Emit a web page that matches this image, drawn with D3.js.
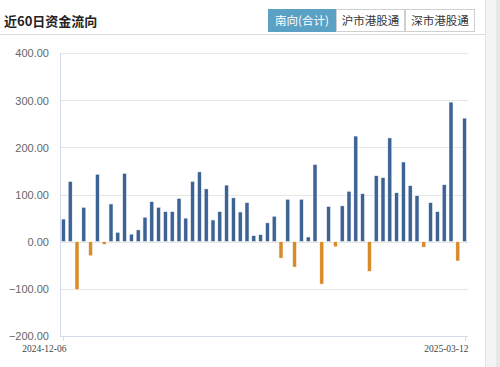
<!DOCTYPE html>
<html><head><meta charset="utf-8">
<script src="https://cdn.jsdelivr.net/npm/d3@7/dist/d3.min.js"></script>
<style>
html,body{margin:0;padding:0;background:#fff;overflow:hidden;}
svg{display:block;}
</style></head>
<body>
<svg id="c" width="500" height="367"></svg>
<script>
const title = "近60日资金流向";
const tabs = ["南向(合计)", "沪市港股通", "深市港股通"];
const dates = [
 "2024-12-06","2024-12-09","2024-12-10","2024-12-11","2024-12-12","2024-12-13","2024-12-16","2024-12-17","2024-12-18","2024-12-19",
 "2024-12-20","2024-12-23","2024-12-24","2024-12-27","2024-12-30","2024-12-31","2025-01-02","2025-01-03","2025-01-06","2025-01-07",
 "2025-01-08","2025-01-09","2025-01-10","2025-01-13","2025-01-14","2025-01-15","2025-01-16","2025-01-17","2025-01-20","2025-01-21",
 "2025-01-22","2025-01-23","2025-01-24","2025-01-27","2025-02-05","2025-02-06","2025-02-07","2025-02-10","2025-02-11","2025-02-12",
 "2025-02-13","2025-02-14","2025-02-17","2025-02-18","2025-02-19","2025-02-20","2025-02-21","2025-02-24","2025-02-25","2025-02-26",
 "2025-02-27","2025-02-28","2025-03-03","2025-03-04","2025-03-05","2025-03-06","2025-03-07","2025-03-10","2025-03-11","2025-03-12"
];
const flows = [
 48,128,-102,73,-30,143,-6,80,20,145,
 16,25,52,85,73,64,64,92,50,128,
 148,112,46,64,120,93,63,83,13,15,
 40,54,-35,90,-54,90,10,164,-90,75,
 -11,76,107,224,102,-63,140,136,220,104,
 169,119,98,-12,83,64,121,296,-41,262
];
const yTicks = [-200,-100,0,100,200,300,400];
const xLabels = ["2024-12-06","2025-03-12"];

const svg = d3.select("#c");
// right gutter
svg.append("rect").attr("x",485).attr("y",0).attr("width",15).attr("height",367).attr("fill","#f4f4f4");
svg.append("line").attr("x1",485.5).attr("x2",485.5).attr("y1",0).attr("y2",367).attr("stroke","#e4e4e4");
svg.append("rect").attr("x",496).attr("y",0).attr("width",4).attr("height",367).attr("fill","#e8e8e8");

// header
svg.append("text").attr("x",4).attr("y",26).text(title)
  .attr("font-family","'Noto Sans CJK SC', sans-serif").attr("font-weight","bold")
  .attr("font-size",13).attr("fill","#222");
svg.append("line").attr("x1",0).attr("x2",485).attr("y1",34.5).attr("y2",34.5).attr("stroke","#dcdcdc");

const tabX = [268,336,405,475];
tabs.forEach((t,i)=>{
  const sel = i===0;
  svg.append("rect").attr("x",tabX[i]+0.5).attr("y",9.5).attr("width",tabX[i+1]-tabX[i]-1).attr("height",22)
    .attr("fill", sel ? "#5ba0c5" : "#fff").attr("stroke", sel ? "#5ba0c5" : "#cfcfcf");
  svg.append("text").attr("x",(tabX[i]+tabX[i+1])/2).attr("y",25).attr("text-anchor","middle")
    .attr("font-family","'Noto Sans CJK SC', sans-serif").attr("font-size",11.5)
    .attr("fill", sel ? "#fff" : "#333").text(t);
});

// scales
const x = d3.scaleBand().domain(dates).range([60,468]).paddingInner(0.4).paddingOuter(0.2);
const y = d3.scaleLinear().domain([-200,400]).range([336,53]);

// grid
const g = svg.append("g");
g.selectAll("line.grid").data(yTicks.filter(d=>d>-200)).join("line")
  .attr("x1",60).attr("x2",468).attr("y1",d=>Math.round(y(d))+0.5).attr("y2",d=>Math.round(y(d))+0.5)
  .attr("stroke","#e6e6e6");

// y labels
const yAxis = d3.axisLeft(y).tickValues(yTicks).tickFormat(d3.format(".2f")).tickSize(0).tickPadding(0);
const ya = svg.append("g").attr("transform","translate(49,0)").call(yAxis);
ya.select(".domain").remove();
ya.selectAll("text").attr("font-family","'Liberation Sans', Arial, sans-serif").attr("font-size",11)
  .attr("fill","#666").attr("dy","0.35em").text(d=>d3.format(".2f")(d).replace("-","-"));

// axis lines
svg.append("line").attr("x1",60.5).attr("x2",60.5).attr("y1",53).attr("y2",336).attr("stroke","#d3d9ee");
svg.append("line").attr("x1",60).attr("x2",468).attr("y1",336.5).attr("y2",336.5).attr("stroke","#d3d9ee");

// bars
svg.append("g").selectAll("rect").data(dates.map((d,i)=>({d,v:flows[i]}))).join("rect")
  .attr("x",d=>x(d.d)).attr("width",x.bandwidth())
  .attr("y",d=>y(Math.max(0,d.v))).attr("height",d=>Math.abs(y(d.v)-y(0)))
  .attr("fill",d=>d.v>=0 ? "#3d6294" : "#d98b2a")
  .attr("stroke","#fff").attr("stroke-width",0.6);

// x ticks + labels
const xg = svg.append("g");
xLabels.forEach(l=>{
  const cx = Math.round(x(l)+x.bandwidth()/2)+0.5;
  xg.append("line").attr("x1",cx).attr("x2",cx).attr("y1",336).attr("y2",341).attr("stroke","#d3d9ee");
  xg.append("text").attr("x",cx+3).attr("y",352).attr("text-anchor","end")
    .attr("font-family","'Liberation Serif', serif").attr("font-size",9.5).attr("fill","#444").text(l);
});
</script>
</body></html>
